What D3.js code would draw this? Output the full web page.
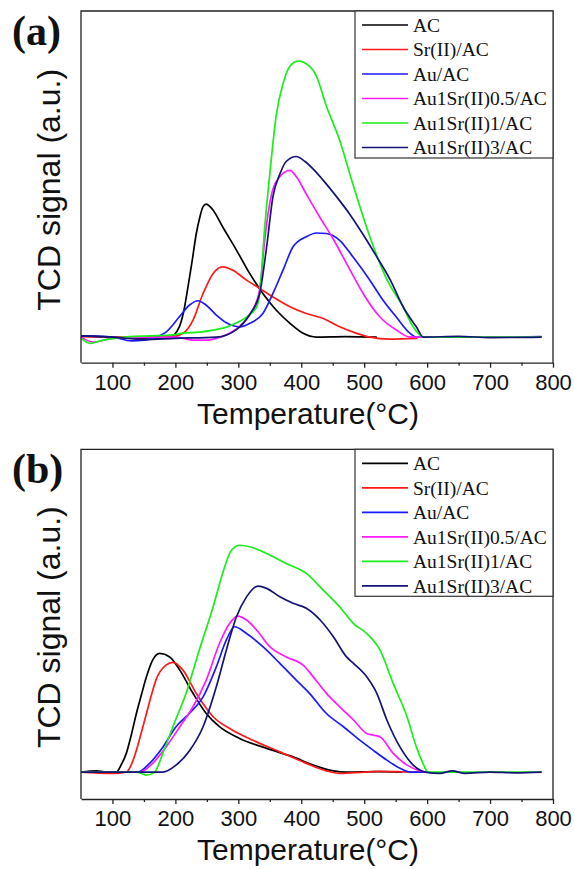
<!DOCTYPE html>
<html lang="en">
<head>
<meta charset="UTF-8">
<title>TCD signal vs Temperature</title>
<script src="https://d3js.org/d3.v7.min.js"></script>
<style>
  body { margin: 0; background: #fff; }
  svg { display: block; }
  .tick text { font-family: "Liberation Sans", Arial, sans-serif; font-size: 22px; fill: #111; }
  .axis path, .axis line { stroke: #222; stroke-width: 1.3px; }
  .frame { fill: none; stroke: #222; stroke-width: 1.3px; }
  .legend text { font-family: "Liberation Serif", "Times New Roman", serif; font-size: 19.5px; fill: #111; }
</style>
</head>
<body>
<svg width="574" height="869"></svg>
<script>
// series names and colours (legend order)
const seriesNames = ["AC", "Sr(II)/AC", "Au/AC", "Au1Sr(II)0.5/AC", "Au1Sr(II)1/AC", "Au1Sr(II)3/AC"];
const seriesColors = ["#000000", "#ff1a1a", "#1a1aff", "#ff1aff", "#1aee1a", "#141478"];
const xTicks = [100, 200, 300, 400, 500, 600, 700, 800];
const xMinor = [150, 250, 350, 450, 550, 650, 750];

// panel (a): [temperature °C, signal a.u.]
const aAC = [[50,0.05],[100,0],[150,-0.05],[191,0],[206,0.4],[213,1.0],[220,2.0],[227,3.1],[233,4.1],[239,4.8],[244,5.2],[249,5.3],[255,5.2],[260,5.06],[275,4.4],[297,3.47],[318,2.54],[339,1.74],[360,1.08],[382,0.55],[403,0.15],[424,0],[470,0.02],[520,0]];
const aSr = [[50,0.02],[120,0],[191,0],[212,0.15],[228,0.68],[244,1.74],[260,2.54],[275,2.8],[291,2.67],[313,2.27],[334,1.94],[355,1.6],[382,1.21],[408,0.94],[435,0.74],[461,0.41],[488,0.15],[509,0],[540,-0.08],[585,-0.05]];
const aAu = [[50,0.05],[100,0],[130,-0.15],[150,-0.12],[169,0],[185,0.2],[206,0.8],[222,1.27],[236,1.45],[249,1.27],[265,0.88],[281,0.57],[302,0.41],[318,0.55],[339,0.94],[355,1.74],[371,2.67],[387,3.6],[408,4.0],[424,4.15],[440,4.13],[461,3.86],[482,3.2],[509,2.27],[530,1.47],[551,0.8],[573,0.15],[583,0],[680,0],[782,0.02]];
const aSr05 = [[50,0],[70,-0.2],[100,-0.05],[200,0],[230,-0.12],[250,-0.12],[265,-0.05],[286,0.15],[307,0.55],[323,1.1],[334,1.9],[342,3.9],[352,5.6],[366,6.4],[382,6.65],[392,6.4],[408,5.7],[429,4.8],[451,3.9],[477,2.7],[498,1.75],[525,0.8],[551,0.28],[573,0],[680,0],[782,0]];
const aSr1 = [[50,-0.05],[65,-0.25],[80,-0.15],[120,0],[200,0.1],[211,0.16],[238,0.2],[260,0.28],[281,0.4],[300,0.6],[313,0.8],[329,1.2],[334,1.75],[342,4.4],[350,6.5],[360,8.8],[371,10.1],[382,10.8],[395,11],[413,10.8],[424,10.4],[440,9.2],[461,7.85],[482,6.1],[509,4.0],[536,2.3],[562,1.2],[578,0.4],[594,0],[680,0],[782,0]];
const aSr3 = [[50,0.05],[100,0],[150,-0.1],[200,-0.05],[265,0],[297,0.3],[318,0.9],[334,1.75],[345,3.6],[355,5.6],[366,6.5],[376,7.0],[392,7.2],[406,7.0],[419,6.7],[435,6.25],[456,5.6],[477,4.9],[498,4.1],[520,3.2],[541,2.3],[562,1.2],[583,0.4],[594,0],[650,0.03],[700,-0.02],[782,0]];

// panel (b)
const bAC = [[50,0],[75,0.05],[90,0],[106,0],[114,0.3],[122,0.75],[130,1.5],[138,2.35],[146,3.1],[154,3.82],[164,4.5],[175,4.76],[191,4.62],[207,4.09],[228,3.16],[249,2.35],[270,1.82],[302,1.35],[345,0.95],[387,0.61],[419,0.28],[451,0.05],[472,0],[520,0.02],[560,0]];
const bSr = [[50,0],[100,-0.05],[122,0],[130,0.3],[138,0.88],[146,1.6],[154,2.35],[162,3.1],[169,3.69],[185,4.29],[196,4.4],[212,4.09],[233,3.16],[260,2.22],[291,1.68],[323,1.28],[366,0.81],[408,0.35],[440,0.05],[461,-0.05],[500,0],[525,0.03],[578,0],[595,0]];
const bAu = [[50,0],[140,0],[159,0.35],[180,1.0],[201,1.82],[222,2.35],[244,3.02],[265,4.22],[281,5.3],[294,5.83],[313,5.56],[339,5.03],[366,4.36],[392,3.69],[413,3.16],[440,2.35],[467,1.82],[493,1.28],[514,0.88],[536,0.48],[557,0.15],[573,0],[600,0]];
const bSr05 = [[50,0],[143,0],[164,0.35],[185,1.0],[207,1.82],[228,2.62],[249,3.69],[270,5.16],[286,5.96],[299,6.26],[313,6.1],[329,5.7],[350,5.03],[376,4.62],[403,4.29],[419,3.82],[440,3.16],[461,2.62],[483,2.09],[504,1.55],[525,1.42],[546,0.75],[568,0.28],[589,0.05],[597,0]];
const bSr1 = [[50,0],[120,0],[138,0],[154,-0.12],[167,0],[180,0.75],[196,1.82],[217,3.16],[238,4.9],[260,6.63],[275,7.97],[289,8.9],[302,9.1],[318,9.04],[345,8.77],[376,8.37],[408,7.97],[435,7.3],[461,6.63],[483,5.96],[504,5.56],[525,4.9],[546,3.56],[568,2.22],[583,1.0],[597,0.15],[600,0],[650,0],[700,0],[782,0]];
const bSr3 = [[50,0],[180,0],[201,0.28],[223,0.88],[244,1.82],[265,3.42],[281,4.9],[297,6.23],[313,7.03],[331,7.46],[345,7.37],[366,7.03],[387,6.77],[408,6.57],[430,6.1],[451,5.43],[472,4.62],[483,4.36],[504,3.82],[520,3.16],[536,2.09],[557,1.0],[578,0.28],[597,0],[620,-0.05],[640,0.05],[660,-0.05],[700,0],[740,-0.03],[782,0]];

const svg = d3.select("svg");
const left = 81, right = 553;

function drawPanel(label, top, bottom, series, yDomain) {
  const x = d3.scaleLinear().domain([50, 800]).range([left, right]);
  const y = d3.scaleLinear().domain(yDomain).range([bottom, top]);
  const g = svg.append("g");

  const line = d3.line()
    .x(d => x(d[0]))
    .y(d => y(d[1]))
    .curve(d3.curveMonotoneX);

  series.forEach((s, i) => {
    g.append("path")
      .attr("d", line(s))
      .attr("fill", "none")
      .attr("stroke", seriesColors[i])
      .attr("stroke-width", 1.7)
      .attr("stroke-linejoin", "round");
  });

  // frame: left, top, right
  g.append("path")
    .attr("class", "frame")
    .attr("d", `M${left},${bottom}V${top}H${right}V${bottom}`);

  // bottom axis with major and minor ticks
  g.append("g")
    .attr("class", "axis")
    .attr("transform", `translate(0,${bottom})`)
    .call(d3.axisBottom(x).tickValues(xTicks).tickSize(5).tickSizeOuter(0).tickPadding(4))
    .call(a => a.selectAll("text").attr("dy", "0.84em"));

  g.append("g")
    .attr("class", "axis")
    .attr("transform", `translate(0,${bottom})`)
    .call(d3.axisBottom(x).tickValues(xMinor).tickSize(3).tickFormat(""))
    .call(a => a.select(".domain").remove());

  g.append("text")
    .attr("x", (left + right) / 2 - 9)
    .attr("y", bottom + 61)
    .attr("text-anchor", "middle")
    .attr("font-family", "Liberation Sans, Arial, sans-serif")
    .attr("font-size", 30)
    .attr("fill", "#111")
    .text("Temperature(°C)");

  g.append("text")
    .attr("transform", `translate(60,${(top + bottom) / 2 + 3}) rotate(-90)`)
    .attr("text-anchor", "middle")
    .attr("font-family", "Liberation Sans, Arial, sans-serif")
    .attr("font-size", 32)
    .attr("fill", "#111")
    .text("TCD signal (a.u.)");

  g.append("text")
    .attr("x", 12)
    .attr("y", top + 34)
    .attr("font-family", "Liberation Serif, Times New Roman, serif")
    .attr("font-weight", "bold")
    .attr("font-size", 42)
    .attr("fill", "#111")
    .text(label);

  // legend
  const lg = g.append("g").attr("class", "legend");
  lg.append("rect")
    .attr("x", 355).attr("y", top)
    .attr("width", right - 355).attr("height", 147)
    .attr("fill", "#fff").attr("stroke", "#333").attr("stroke-width", 1.2);
  seriesNames.forEach((name, i) => {
    const ly = top + 14 + i * 24.5;
    lg.append("line")
      .attr("x1", 362).attr("x2", 408)
      .attr("y1", ly).attr("y2", ly)
      .attr("stroke", seriesColors[i]).attr("stroke-width", 1.7);
    lg.append("text")
      .attr("x", 413).attr("y", ly)
      .attr("dy", "0.35em")
      .text(name);
  });
}

drawPanel("(a)", 11, 362.7, [aAC, aSr, aAu, aSr05, aSr1, aSr3], [-1.02, 13]);
drawPanel("(b)", 449.3, 799, [bAC, bSr, bAu, bSr05, bSr1, bSr3], [-1.08, 12.95]);
</script>
</body>
</html>
